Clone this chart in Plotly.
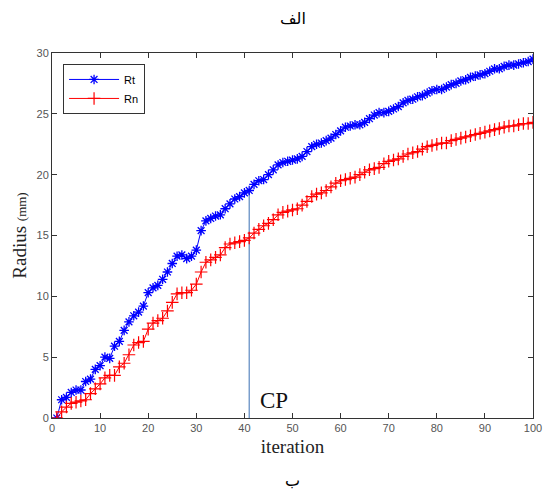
import plotly.graph_objects as go

# iteration index
iteration = list(range(1, 101))

# tangential radius (mm)
rt = [0.0, 1.5, 1.7, 2.1, 2.3, 2.3, 3.0, 3.2, 4.0, 4.3,
      5.0, 4.9, 5.9, 6.3, 7.2, 7.9, 8.4, 8.7, 9.2, 10.3,
      10.7, 10.9, 11.4, 12.0, 12.7, 13.3, 13.4, 13.1, 13.3, 13.8,
      15.4, 16.2, 16.4, 16.6, 16.7, 17.2, 17.6, 18.0, 18.2, 18.5,
      18.7, 19.2, 19.5, 19.6, 20.0, 20.4, 20.8, 21.0, 21.1, 21.2,
      21.3, 21.5, 21.9, 22.3, 22.5, 22.6, 22.8, 23.0, 23.3, 23.6,
      23.9, 24.0, 24.1, 24.1, 24.3, 24.6, 24.9, 25.1, 25.1, 25.2,
      25.4, 25.6, 25.9, 26.1, 26.2, 26.4, 26.5, 26.7, 26.9, 27.0,
      27.0, 27.2, 27.4, 27.5, 27.7, 27.8, 28.0, 28.1, 28.2, 28.3,
      28.5, 28.7, 28.7, 28.9, 29.0, 29.0, 29.1, 29.2, 29.3, 29.5]

# normal radius (mm)
rn = [0.0, 0.5, 0.9, 1.2, 1.3, 1.4, 1.5, 2.0, 2.4, 2.8,
      3.3, 3.5, 3.5, 4.2, 4.5, 5.2, 6.0, 6.2, 6.3, 7.3,
      7.8, 8.0, 8.2, 8.8, 9.5, 10.2, 10.3, 10.3, 10.5, 11.0,
      12.0, 12.8, 13.0, 13.2, 13.4, 14.0, 14.3, 14.4, 14.5, 14.6,
      14.8, 15.2, 15.5, 15.8, 16.0, 16.3, 16.7, 16.9, 17.0, 17.1,
      17.2, 17.5, 17.8, 18.2, 18.4, 18.5, 18.7, 19.0, 19.3, 19.5,
      19.6, 19.7, 19.8, 20.0, 20.2, 20.4, 20.5, 20.6, 20.9, 21.1,
      21.2, 21.3, 21.5, 21.7, 21.8, 21.9, 22.1, 22.3, 22.4, 22.5,
      22.6, 22.6, 22.8, 22.9, 23.0, 23.1, 23.2, 23.3, 23.4, 23.5,
      23.6, 23.7, 23.8, 23.9, 24.0, 24.0, 24.1, 24.2, 24.2, 24.3]

# change point
cp_iter = 41
cp_top = rt[iteration.index(cp_iter)]

x_ticks = list(range(0, 101, 10))
y_ticks = list(range(0, 31, 5))

fig = go.Figure()

fig.add_trace(go.Scatter(
    x=[cp_iter, cp_iter], y=[0, cp_top], mode="lines",
    line=dict(color="#5b87c0", width=1.2), showlegend=False, hoverinfo="skip"))

fig.add_trace(go.Scatter(
    x=iteration, y=rt, mode="lines+markers", name="Rt",
    line=dict(color="#0000ff", width=1),
    marker=dict(symbol="asterisk-open", size=8, color="#0000ff",
                line=dict(color="#0000ff", width=1.3))))

fig.add_trace(go.Scatter(
    x=iteration, y=rn, mode="lines+markers", name="Rn",
    line=dict(color="#ff0000", width=1),
    marker=dict(symbol="cross-thin-open", size=9, color="#ff0000",
                line=dict(color="#ff0000", width=1.2))))

fig.add_annotation(x=cp_iter, y=0, xref="x", yref="y", text="CP",
                   showarrow=False, xanchor="left", yanchor="bottom",
                   xshift=9, yshift=3,
                   font=dict(family="Liberation Serif", size=23, color="#111"))

fig.add_annotation(x=0.5, y=1, xref="paper", yref="paper", yanchor="middle",
                   text="الف", showarrow=False, yshift=35,
                   font=dict(family="DejaVu Sans", size=16, color="#000"))
fig.add_annotation(x=0.5, y=0, xref="paper", yref="paper", yanchor="middle",
                   text="ب", showarrow=False, yshift=-62,
                   font=dict(family="DejaVu Sans", size=16, color="#000"))

axis_common = dict(
    showgrid=False, zeroline=False, showline=True, linecolor="#333",
    linewidth=1, mirror="ticks", ticks="inside", ticklen=5, tickcolor="#333",
    automargin=False,
    tickfont=dict(family="Liberation Sans", size=11, color="#555"))

fig.update_xaxes(range=[0, 100], tickvals=x_ticks,
                 title=dict(text="iteration", standoff=6,
                            font=dict(family="Liberation Serif", size=19, color="#222")),
                 **axis_common)
fig.update_yaxes(range=[0, 30], tickvals=y_ticks,
                 title=dict(text="Radius <span style='font-size:13px'>(mm)</span>",
                            standoff=4,
                            font=dict(family="Liberation Serif", size=19, color="#222")),
                 **axis_common)

fig.update_layout(
    width=546, height=492,
    margin=dict(l=52, r=13, t=53, b=74),
    paper_bgcolor="white", plot_bgcolor="white",
    legend=dict(x=0.023, y=0.97, xanchor="left", yanchor="top",
                bgcolor="white", bordercolor="#333", borderwidth=1,
                font=dict(family="Liberation Sans", size=11, color="#000"),
                itemwidth=50, tracegroupgap=0),
)

fig.write_html("out.html")
